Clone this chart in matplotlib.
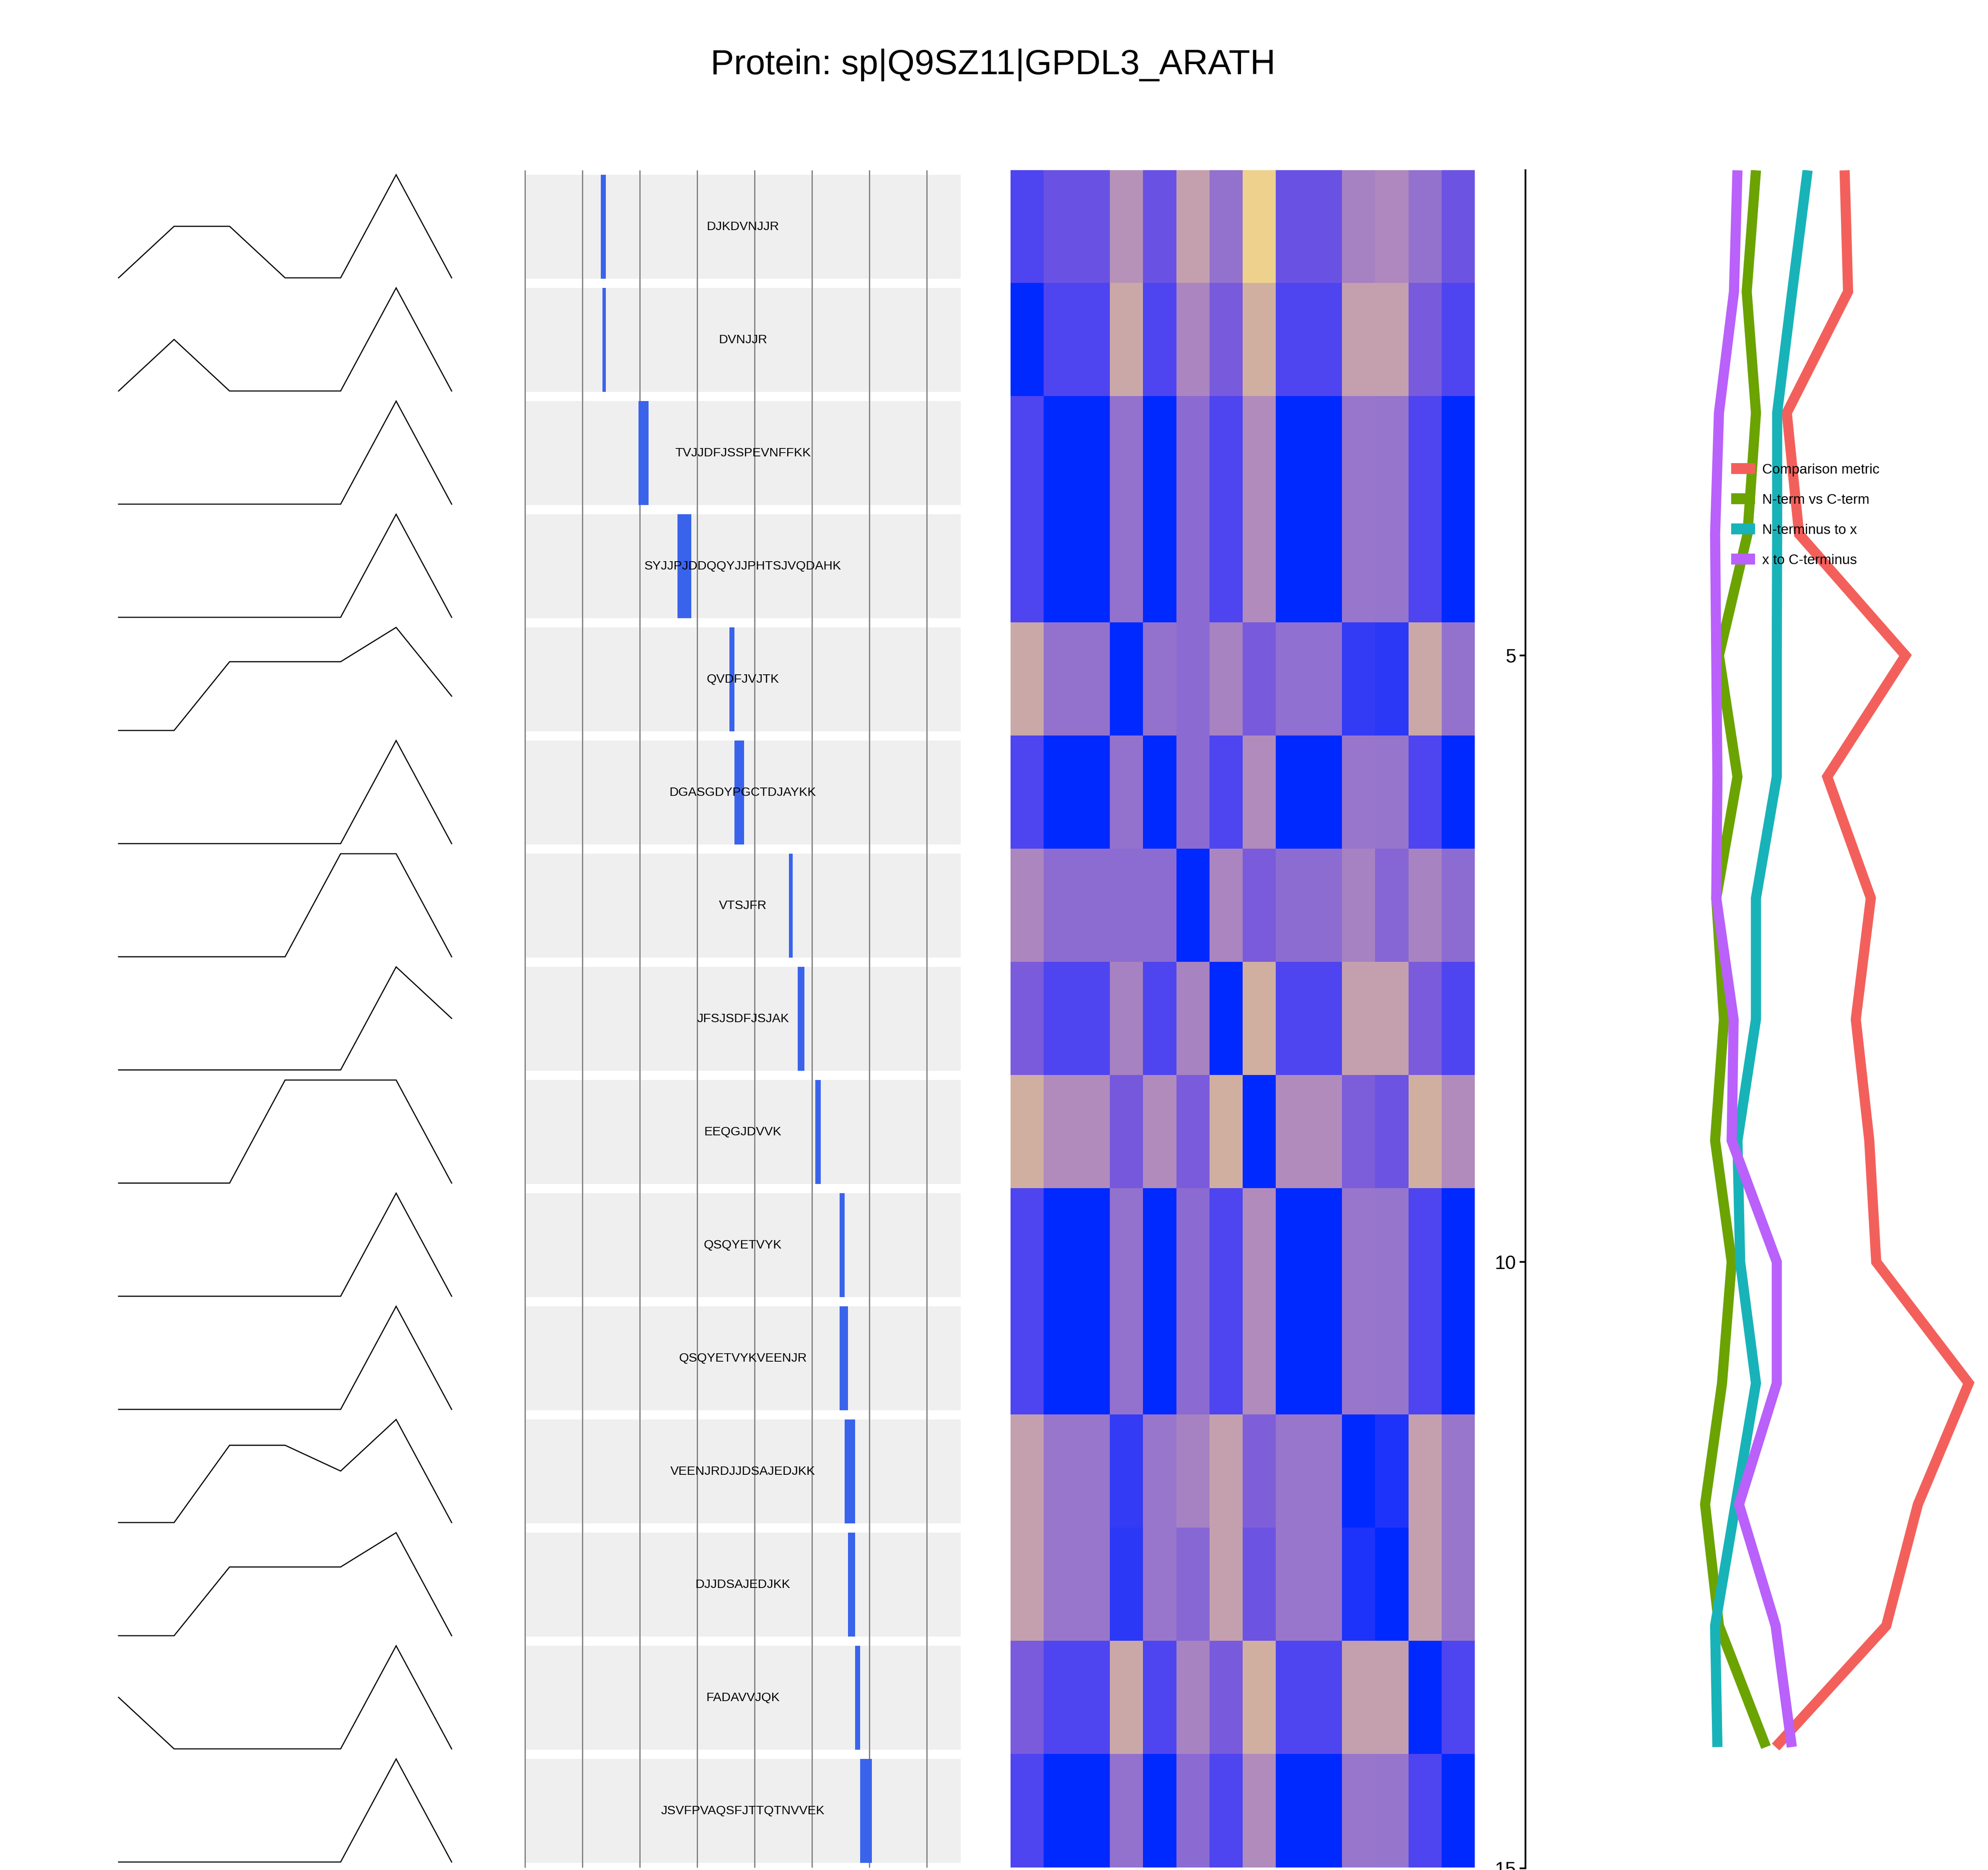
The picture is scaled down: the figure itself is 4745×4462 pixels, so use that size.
import numpy as np
import matplotlib
matplotlib.use("Agg")
import matplotlib.pyplot as plt
from matplotlib.colors import LinearSegmentedColormap
from matplotlib.patches import Patch

plt.rcParams['font.family'] = ['Liberation Sans', 'DejaVu Sans']

# ---------------- data ----------------
title = "Protein: sp|Q9SZ11|GPDL3_ARATH"

peptides = ["DJKDVNJJR", "DVNJJR", "TVJJDFJSSPEVNFFKK", "SYJJPJDDQQYJJPHTSJVQDAHK",
            "QVDFJVJTK", "DGASGDYPGCTDJAYKK", "VTSJFR", "JFSJSDFJSJAK", "EEQGJDVVK",
            "QSQYETVYK", "QSQYETVYKVEENJR", "VEENJRDJJDSAJEDJKK", "DJJDSAJEDJKK",
            "FADAVVJQK", "JSVFPVAQSFJTTQTNVVEK"]
pep_start = [132, 135, 198, 266, 356, 365, 460, 475, 506, 548, 548, 557, 563, 575, 584]
protein_length = 759
grid_positions = [0, 100, 200, 300, 400, 500, 600, 700]

profiles = [
    [0, 0.5, 0.5, 0, 0, 1, 0],
    [0, 0.5, 0, 0, 0, 1, 0],
    [0, 0, 0, 0, 0, 1, 0],
    [0, 0, 0, 0, 0, 1, 0],
    [0, 0, 0.667, 0.667, 0.667, 1, 0.333],
    [0, 0, 0, 0, 0, 1, 0],
    [0, 0, 0, 0, 1, 1, 0],
    [0, 0, 0, 0, 0, 1, 0.5],
    [0, 0, 0, 1, 1, 1, 0],
    [0, 0, 0, 0, 0, 1, 0],
    [0, 0, 0, 0, 0, 1, 0],
    [0, 0, 0.75, 0.75, 0.5, 1, 0],
    [0, 0, 0.667, 0.667, 0.667, 1, 0],
    [0.5, 0, 0, 0, 0, 1, 0],
    [0, 0, 0, 0, 0, 1, 0],
]

row_a = [0.15, 0.00, 0.00, 0.45, 0.00, 0.41, 0.15, 0.62, 0.00, 0.00, 0.48, 0.47, 0.15, 0.00]
heat = [
    [0.15, 0.25, 0.25, 0.65, 0.25, 0.72, 0.45, 1.00, 0.25, 0.25, 0.56, 0.60, 0.45, 0.26],
    [0.00, 0.15, 0.15, 0.78, 0.15, 0.58, 0.31, 0.83, 0.15, 0.15, 0.72, 0.72, 0.31, 0.15],
    row_a,
    row_a,
    [0.78, 0.45, 0.45, 0.00, 0.45, 0.41, 0.57, 0.31, 0.44, 0.44, 0.10, 0.085, 0.78, 0.45],
    row_a,
    [0.59, 0.42, 0.42, 0.42, 0.42, 0.00, 0.58, 0.32, 0.42, 0.42, 0.56, 0.38, 0.57, 0.42],
    [0.32, 0.15, 0.15, 0.56, 0.15, 0.57, 0.00, 0.83, 0.15, 0.15, 0.72, 0.72, 0.32, 0.15],
    [0.83, 0.62, 0.62, 0.30, 0.62, 0.32, 0.83, 0.00, 0.62, 0.62, 0.33, 0.26, 0.83, 0.62],
    row_a,
    row_a,
    [0.72, 0.48, 0.48, 0.10, 0.48, 0.56, 0.72, 0.34, 0.48, 0.48, 0.00, 0.06, 0.72, 0.48],
    [0.72, 0.48, 0.48, 0.085, 0.48, 0.39, 0.72, 0.26, 0.48, 0.48, 0.06, 0.00, 0.72, 0.48],
    [0.32, 0.15, 0.15, 0.78, 0.15, 0.57, 0.31, 0.83, 0.15, 0.15, 0.72, 0.72, 0.00, 0.15],
    row_a,
]

metric_pos = list(range(1, 15))
comparison_metric = [0.828, 0.837, 0.678, 0.710, 0.986, 0.783, 0.896, 0.857, 0.892, 0.910, 1.150, 1.018, 0.936, 0.649]
nterm_vs_cterm   = [0.598, 0.574, 0.598, 0.576, 0.502, 0.550, 0.495, 0.515, 0.492, 0.535, 0.510, 0.466, 0.502, 0.624]
nterm_to_x       = [0.732, 0.692, 0.653, 0.653, 0.652, 0.652, 0.598, 0.598, 0.550, 0.557, 0.598, 0.545, 0.492, 0.498]
x_to_cterm       = [0.550, 0.541, 0.502, 0.492, 0.495, 0.498, 0.495, 0.540, 0.535, 0.652, 0.652, 0.554, 0.649, 0.691]
series_names = ["Comparison metric", "N-term vs C-term", "N-terminus to x", "x to C-terminus"]
series_colors = ["#F3605B", "#6BA300", "#18B3B8", "#B961FA"]

# ---------------- figure ----------------
W, H = 4745, 4462
DPI = 300
fig = plt.figure(figsize=(W / DPI, H / DPI), dpi=DPI)

top_px = 406
row_px = 270
n = len(peptides)
bottom_px = top_px + n * row_px

def fx(px):
    return px / W

def fy(px):
    return 1 - px / H

fig.text(0.4995, fy(177), title, ha="center", va="baseline", fontsize=20.1)

# Panel 1: profiles, one small axes per row
p1_left, p1_right = 283, 1078
for i, prof in enumerate(profiles):
    ax = fig.add_axes([fx(p1_left), fy(top_px + (i + 1) * row_px),
                       fx(p1_right - p1_left), row_px / H])
    ax.plot(range(len(prof)), prof, color="black", lw=0.65, clip_on=False,
            solid_joinstyle="miter")
    ax.set_xlim(0, len(prof) - 1)
    ax.set_ylim(-0.053, 1.045)
    ax.axis("off")

# Panel 2: peptide positions
p2_left, p2_right = 1253, 2293
ax2 = fig.add_axes([fx(p2_left), fy(bottom_px), fx(p2_right - p2_left), (bottom_px - top_px) / H])
rows = np.arange(n)
ax2.barh(rows, [protein_length] * n, left=0, height=0.918, color="#EFEFEF", zorder=1)
ax2.vlines(grid_positions, -0.5, n - 0.5, color="#808080", lw=0.7, zorder=2, clip_on=False)
lengths = [len(p) for p in peptides]
ax2.barh(rows, lengths, left=pep_start, height=0.918, color="#3A63EC", zorder=3)
for i, p in enumerate(peptides):
    ax2.text(protein_length / 2, i, p, ha="center", va="center", fontsize=7.25, zorder=4)
ax2.set_xlim(0, protein_length)
ax2.set_ylim(n - 0.5, -0.5)
ax2.axis("off")

# Panel 3: heatmap
cmap = LinearSegmentedColormap.from_list("pep", [
    (0.00, "#0029FF"), (0.15, "#4F45F0"), (0.30, "#7759DD"), (0.45, "#9372CF"),
    (0.60, "#AE88BE"), (0.72, "#C4A0B0"), (0.83, "#D0AFA2"), (1.00, "#EDD18D")])
p3_left, p3_right = 2412, 3520
ax3 = fig.add_axes([fx(p3_left), fy(bottom_px), fx(p3_right - p3_left), (bottom_px - top_px) / H])
ax3.imshow(np.array(heat), cmap=cmap, vmin=0, vmax=1, aspect="auto", interpolation="nearest")
ax3.axis("off")

# Panel 4: metrics lines
p4_left = 3641
y_top, y_bot = 406.4, 4458
ax4 = fig.add_axes([fx(p4_left), fy(y_bot), 1 - fx(p4_left), (y_bot - y_top) / H])
for vals, name, col in zip([comparison_metric, nterm_vs_cterm, nterm_to_x, x_to_cterm],
                           series_names, series_colors):
    ax4.plot(vals, metric_pos, color=col, lw=5.8, solid_joinstyle="miter",
             solid_capstyle="butt", label=name)
ax4.set_ylim(15, 1)
ax4.set_xlim(0, 1.2)
ax4.set_yticks([5, 10, 15])
ax4.set_xticks([])
for s in ["top", "right", "bottom"]:
    ax4.spines[s].set_visible(False)
ax4.spines["left"].set_linewidth(1.0)
ax4.tick_params(axis="y", length=3.4, width=1.0, labelsize=11, pad=2, colors="black")
ax4.patch.set_alpha(0)
handles = [Patch(facecolor=c, edgecolor="none") for c in series_colors]
ax4.legend(handles, series_names, loc="upper left", bbox_to_anchor=(0.445, 0.8275),
           frameon=False, fontsize=8, handlelength=1.7, handleheight=0.8,
           handletextpad=0.5, labelspacing=1.22, borderpad=0, borderaxespad=0)

fig.savefig("out.png", dpi=DPI)
